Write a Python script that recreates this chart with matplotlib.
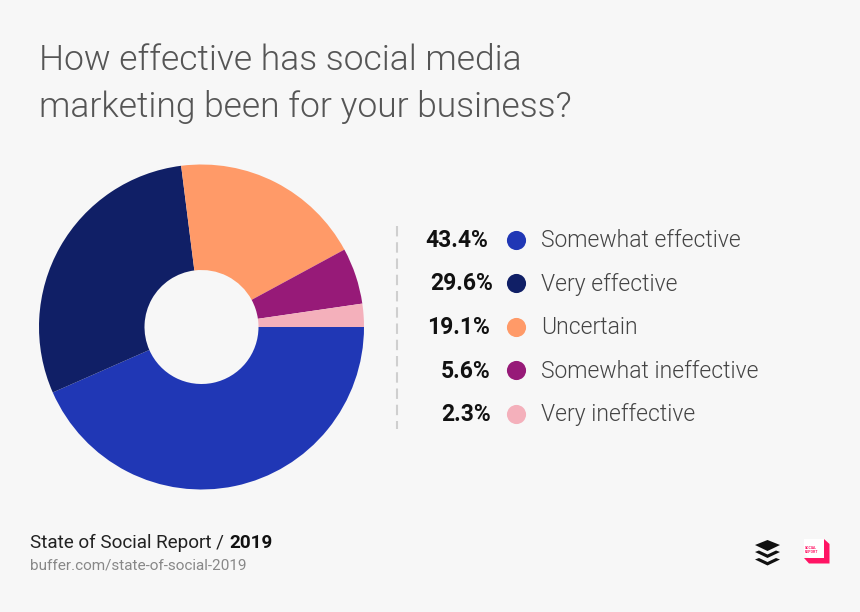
import matplotlib
matplotlib.use('Agg')
import matplotlib.pyplot as plt
from matplotlib.patches import Polygon

plt.rcParams['font.family'] = ['Roboto', 'DejaVu Sans']

labels = ['Somewhat effective', 'Very effective', 'Uncertain', 'Somewhat ineffective', 'Very ineffective']
values = [43.4, 29.6, 19.1, 5.6, 2.3]
value_labels = ['43.4%', '29.6%', '19.1%', '5.6%', '2.3%']
colors = ['#2037b5', '#101f66', '#ff9a68', '#971a78', '#f4b0bb']
label_x_right = [488.5, 493.5, 489.5, 490.5, 490.5]

W, H = 860, 612
bg = '#f7f7f7'

fig = plt.figure(figsize=(W / 100, H / 100), dpi=100, facecolor=bg)

# page layer in pixel coordinates
page = fig.add_axes([0, 0, 1, 1])
page.set_xlim(0, W)
page.set_ylim(H, 0)
page.axis('off')

page.text(39, 60, 'How effective has social media', fontsize=25.45, color='#555555', fontweight=300, va='center')
page.text(39, 107, 'marketing been for your business?', fontsize=25.45, color='#555555', fontweight=300, va='center')

# donut
cx, cy, r = 201.5, 327, 162.5
ax = fig.add_axes([(cx - r) / W, 1 - (cy + r) / H, 2 * r / W, 2 * r / H])
ax.pie(values, colors=colors, startangle=0, counterclock=False, radius=1,
       wedgeprops=dict(width=1 - 57 / 162.5, linewidth=0))
ax.set_xlim(-1, 1)
ax.set_ylim(-1, 1)

# dashed separator
page.plot([397, 397], [226, 429], color='#cfcfcf', lw=1.5, dashes=(5, 2.8))

# legend rows
row_y = [240.5, 284, 327.5, 371, 414.5]
for y, lab, val, col, xr in zip(row_y, labels, value_labels, colors, label_x_right):
    page.text(xr, y, val, fontsize=16.5, fontweight='bold', color='#111111', ha='right', va='center')
    page.scatter([516], [y - 1], s=190, color=col, linewidths=0)
    page.text(541, y, lab, fontsize=16.45, color='#444444', fontweight=300, va='center')

# footer
page.text(30, 543, 'State of Social Report / ', fontsize=13.6, color='#222222', va='center')
page.text(229, 543, '2019', fontsize=13.6, color='#111111', fontweight='bold', va='center')
page.text(30, 565, 'buffer.com/state-of-social-2019', fontsize=11, color='#888888', va='center')

# buffer logo
page.add_patch(Polygon([(755, 545), (767.5, 540), (780, 545), (767.5, 551)], color='#111111', lw=0))
page.add_patch(Polygon([(755, 552), (759, 550.5), (767.5, 554.5), (776, 550.5), (780, 552), (767.5, 558)], color='#111111', lw=0))
page.add_patch(Polygon([(755, 559.5), (759, 558), (767.5, 562), (776, 558), (780, 559.5), (767.5, 565.5)], color='#111111', lw=0))

# social report logo
page.add_patch(Polygon([(804, 539), (825, 539), (825, 558), (809, 558), (804, 553)], color='#ffffff', lw=0))
page.add_patch(Polygon([(824, 539), (829.5, 544), (829.5, 563.5), (809, 563.5), (804, 558), (824, 558)], color='#ff1464', lw=0))
page.text(805, 550, 'SOCIAL\nREPORT', fontsize=2.5, color='#ff1464', fontweight='bold', va='center', linespacing=1.0)

fig.savefig('out.png', dpi=100, facecolor=bg)
